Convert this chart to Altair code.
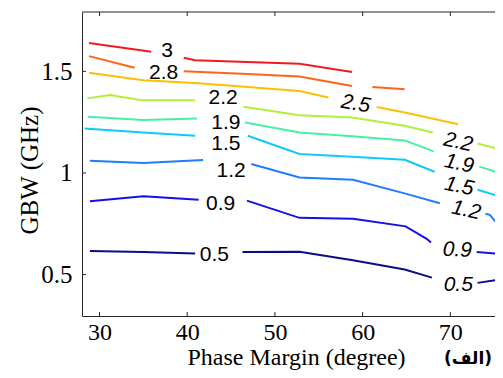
import altair as alt
import pandas as pd

# ---- data -------------------------------------------------------------
levels = ["3", "2.8", "2.5", "2.2", "1.9", "1.5", "1.2", "0.9", "0.5"]
level_colors = ["#ee1c1c", "#ff6419", "#ffbf00", "#aef03a", "#44f0a4",
                "#0fcaf8", "#1f7cff", "#1212e6", "#0c0c86"]

# contour segments: Phase Margin (degree) / GBW (GHz); gaps hold the labels
c3_x = [[28.8, 35.9], [39.6, 40.9, 52.8, 58.8]]
c3_y = [[1.640, 1.596], [1.567, 1.555, 1.537, 1.497]]
c28_x = [[28.8, 34.0], [39.6, 46.9, 52.8, 58.8], [61.1, 64.8]]
c28_y = [[1.575, 1.518], [1.501, 1.487, 1.474, 1.428], [1.423, 1.412]]
c25_x = [[28.8, 35.0, 40.9, 46.9, 52.8, 56.1], [61.6, 64.8, 70.9]]
c25_y = [[1.493, 1.456, 1.443, 1.423, 1.403, 1.371], [1.325, 1.297, 1.240]]
c22_x = [[28.6, 31.2, 34.8, 40.9], [46.4, 52.8, 58.8, 64.8, 68.0], [73.1, 76.0]]
c22_y = [[1.367, 1.384, 1.358, 1.358], [1.326, 1.284, 1.273, 1.232, 1.199], [1.145, 1.113]]
c19_x = [[28.7, 35.0, 41.1], [46.6, 52.8, 58.8, 64.8, 68.1], [73.3, 76.0]]
c19_y = [[1.277, 1.260, 1.268], [1.248, 1.199, 1.181, 1.160, 1.106], [1.031, 0.995]]
c15_x = [[28.3, 35.0, 40.9], [46.9, 52.8, 58.8, 64.8, 68.2], [73.1, 76.0]]
c15_y = [[1.219, 1.199, 1.183], [1.183, 1.093, 1.080, 1.065, 1.006], [0.917, 0.880]]
c12_x = [[28.9, 35.0, 41.8], [47.3, 52.8, 58.9, 65.0, 68.8], [74.0, 74.5, 76.0]]
c12_y = [[1.060, 1.049, 1.064], [1.044, 0.978, 0.966, 0.897, 0.851], [0.799, 0.794, 0.717]]
c09_x = [[28.9, 35.0, 41.3], [46.8, 52.8, 58.9, 64.9, 67.3, 67.8], [73.0, 76.0]]
c09_y = [[0.861, 0.885, 0.868], [0.864, 0.779, 0.775, 0.737, 0.676, 0.658], [0.611, 0.600]]
c05_x = [[28.9, 35.0, 40.9], [46.3, 52.8, 58.9, 64.8, 67.9], [73.1, 76.0]]
c05_y = [[0.616, 0.611, 0.603], [0.611, 0.612, 0.570, 0.525, 0.485], [0.459, 0.477]]

# inline contour labels
lab_left_text = ["3", "2.8", "2.2", "1.9", "1.5", "1.2", "0.9", "0.5"]
lab_left_x = [37.7, 37.3, 44.1, 44.4, 44.4, 45.0, 43.8, 43.1]
lab_left_y = [1.599, 1.493, 1.371, 1.248, 1.142, 1.011, 0.848, 0.595]
lab_right_text = ["2.5", "2.2", "1.9", "1.5", "1.2", "0.9", "0.5"]
lab_right_x = [59.2, 70.9, 71.0, 71.0, 71.8, 70.8, 70.9]
lab_right_y = [1.339, 1.150, 1.044, 0.933, 0.815, 0.619, 0.448]
lab_right_angle = [10, 12, 12, 12, 12, 2, 0]

tick_x = [30, 40, 50, 60, 70]
tick_y = [0.5, 1.0, 1.5]
caption = ["(الف)"]

# ---- build tables --------------------------------------------------------
all_x = [c3_x, c28_x, c25_x, c22_x, c19_x, c15_x, c12_x, c09_x, c05_x]
all_y = [c3_y, c28_y, c25_y, c22_y, c19_y, c15_y, c12_y, c09_y, c05_y]
rows = []
for lev, segs_x, segs_y in zip(levels, all_x, all_y):
    for si, (xs, ys) in enumerate(zip(segs_x, segs_y)):
        for k, (xv, yv) in enumerate(zip(xs, ys)):
            rows.append({"level": lev, "seg": f"{lev}-{si}", "ord": k, "pm": xv, "gbw": yv})
lines_df = pd.DataFrame(rows)
left_df = pd.DataFrame({"t": lab_left_text, "pm": lab_left_x, "gbw": lab_left_y})
right_df = pd.DataFrame({"t": lab_right_text, "pm": lab_right_x, "gbw": lab_right_y,
                         "ang": lab_right_angle})

# plot area: page x 82..495 (the reference continues past the window edge)
W, H = 413, 304
axis_color = "#262626"
serif = "Liberation Serif"

xscale = alt.Scale(domain=[28, 28 + W / 8.77], nice=False, zero=False)
yscale = alt.Scale(domain=[0.296, 1.792], nice=False, zero=False)

x_axis = alt.Axis(values=tick_x, title="Phase Margin (degree)", grid=False, ticks=False,
                  tickSize=0, domainColor=axis_color, domainWidth=1, labelFont=serif,
                  labelFontSize=24, labelColor="black", labelBaseline="alphabetic",
                  labelPadding=23, labelFlush=False, labelOverlap=False,
                  titleFont=serif, titleFontSize=24, titleFontWeight="normal",
                  titleColor="black", titleBaseline="alphabetic", titleY=48, titleX=214,
                  titleAlign="center")
y_axis = alt.Axis(values=tick_y, format="~g", title="GBW (GHz)", grid=False, ticks=False,
                  tickSize=0, domainColor=axis_color, domainWidth=1, labelFont=serif,
                  labelFontSize=25, labelColor="black", labelPadding=10, labelFlush=False,
                  labelOverlap=False, titleFont=serif, titleFontSize=25,
                  titleFontWeight="normal", titleColor="black", titleAngle=-90,
                  titleBaseline="alphabetic", titleX=-45, titleY=158, titleAlign="center")


def X():
    return alt.X("pm:Q", scale=xscale, axis=x_axis)


def Y():
    return alt.Y("gbw:Q", scale=yscale, axis=y_axis)


lines = alt.Chart(lines_df).mark_line(strokeWidth=2, clip=True).encode(
    x=X(), y=Y(),
    color=alt.Color("level:N", scale=alt.Scale(domain=levels, range=level_colors), legend=None),
    detail="seg:N",
    order="ord:Q",
)

left_labels = alt.Chart(left_df).mark_text(
    font="Liberation Sans", fontSize=21, color="black", align="center", baseline="middle"
).encode(x=X(), y=Y(), text="t:N")

right_labels = alt.Chart(right_df).mark_text(
    font="Liberation Sans", fontSize=21, fontStyle="italic", color="black",
    align="center", baseline="middle"
).encode(x=X(), y=Y(), text="t:N", angle=alt.Angle("ang:Q", scale=None))

xt_df = pd.DataFrame({"pm": tick_x})
yt_df = pd.DataFrame({"gbw": tick_y})
bottom_ticks = alt.Chart(xt_df).mark_rule(color=axis_color, strokeWidth=1).encode(
    x=X(), y=alt.value(H), y2=alt.value(H - 4))
top_ticks = alt.Chart(xt_df).mark_rule(color=axis_color, strokeWidth=1).encode(
    x=X(), y=alt.value(0), y2=alt.value(4))
left_ticks = alt.Chart(yt_df).mark_rule(color=axis_color, strokeWidth=1).encode(
    y=Y(), x=alt.value(0), x2=alt.value(4))
top_border = alt.Chart(xt_df.head(1)).mark_rule(color=axis_color, strokeWidth=1).encode(
    x=alt.value(0), x2=alt.value(W), y=alt.value(0))

cap = alt.Chart(pd.DataFrame({"t": caption})).mark_text(
    font="DejaVu Sans", fontWeight="bold", fontSize=17, color="black",
    align="center", baseline="middle"
).encode(x=alt.value(386), y=alt.value(347), text="t:N")

chart = alt.layer(
    lines, left_labels, right_labels, bottom_ticks, top_ticks, left_ticks, top_border, cap
).properties(
    width=W, height=H,
    autosize=alt.AutoSizeParams(type="none"),
    padding={"left": 74, "top": 4, "right": 0, "bottom": 54},
    background="white",
).configure_view(stroke=None)

chart.save("out.html", embed_options={"renderer": "svg", "actions": False})
